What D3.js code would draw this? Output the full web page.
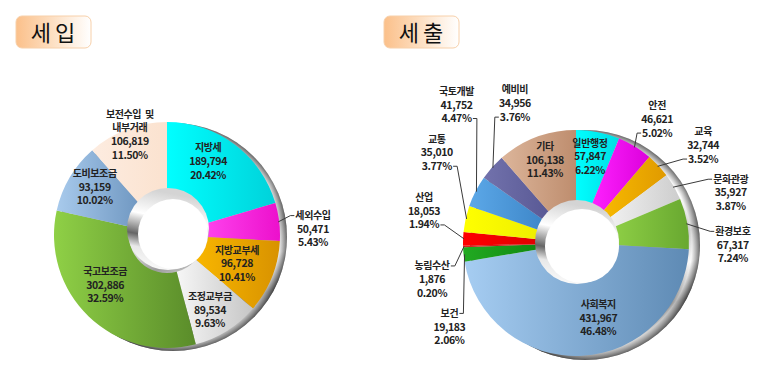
<!DOCTYPE html>
<html>
<head>
<meta charset="utf-8">
<script src="https://cdn.jsdelivr.net/npm/d3@7/dist/d3.min.js"></script>
<style>
    body { margin: 0; background: #fff; }
    svg text { font-family: "Noto Sans CJK KR", "Noto Sans", sans-serif; }
</style>
</head>
<body>
<svg id="chart" width="767" height="380"></svg>
<script>
// ---- data: 세입 ----
var revenueNames = ["지방세", "세외수입", "지방교부세", "조정교부금", "국고보조금", "도비보조금", "보전수입  및\n내부거래"];
var revenueAmounts = [189794, 50471, 96728, 89534, 302886, 93159, 106819];
var revenueShares = ["20.42%", "5.43%", "10.41%", "9.63%", "32.59%", "10.02%", "11.50%"];

// ---- data: 세출 ----
var expenseNames = ["일반행정", "안전", "교육", "문화관광", "환경보호", "사회복지", "보건", "농림수산", "산업", "교통", "국토개발", "예비비", "기타"];
var expenseAmounts = [57847, 46621, 32744, 35927, 67317, 431967, 19183, 1876, 18053, 35010, 41752, 34956, 106138];
var expenseShares = ["6.22%", "5.02%", "3.52%", "3.87%", "7.24%", "46.48%", "2.06%", "0.20%", "1.94%", "3.77%", "4.47%", "3.76%", "11.43%"];

// ---- layout / style ----
var revenueLayout = {
    key: "rev", title: "세입", titleX: 16,
    cx: 167, cy: 235, r: 113, r0: 38,
    ring: {dx: 6, dy: 2, r: 114}, bevel: {dx: 1, dy: -6, r: 41}, hole: {dx: 6, dy: -1, r: 35},
    colors: [["#00ffff", "#00d2da"], ["#ff44ee", "#ec10cc"], ["#f8b600", "#d89200"], ["#f6f6f6", "#c6c6c6"],
             ["#8fd046", "#5a8c2a"], ["#a8caec", "#6e96c0"], ["#fdece0", "#fbe2cf"]],
    nudges: [[-5, -12], [69.5, 3], [-1.5, 0], [2, 10], [-8.5, -5.5], [-6, -9], [-10, -28.5]],
    leaders: {1: {line: 0, side: "left"}}
};

var expenseLayout = {
    key: "exp", title: "세출", titleX: 384,
    cx: 576, cy: 243, r: 113, r0: 38,
    ring: {dx: 9, dy: 2, r: 115}, bevel: {dx: 1, dy: -1, r: 42}, hole: {dx: 6, dy: 3, r: 37},
    colors: [["#00ffff", "#00dce4"], ["#ff22ff", "#dc00dc"], ["#f8ba00", "#e09a00"], ["#f2f2f2", "#cdcdcd"],
             ["#8fd046", "#68a830"], ["#a6cdf2", "#5e8ab4"], ["#22aa22", "#118811"], ["#dd2222", "#bb1111"],
             ["#ff0000", "#e00000"], ["#ffff00", "#eeee00"], ["#5ca8e8", "#3d86c8"], ["#7272ac", "#585894"],
             ["#dcb59a", "#be8d6e"]],
    nudges: [[-1, -11], [41, -58], [71, -45], [88, -12], [81, 15], [18, -2], [-50, 76], [-67, 34],
             [-75, -29], [-64, -74], [-51, -103], [-4, -88], [-4, -11]],
    leaders: {
        1: {line: 2, side: "left"}, 2: {line: 2, side: "left"}, 3: {line: 0, side: "left"},
        4: {line: 0, side: "left"}, 6: {line: 0, side: "right"}, 7: {line: 0, side: "right"},
        8: {line: 2, side: "right"}, 9: {line: 2, side: "right"}, 10: {line: 2, side: "right"},
        11: {line: 2, side: "left"}
    }
};

var LINE_H = 13.5;
var svg = d3.select("#chart");
var defs = svg.append("defs");
var fmt = d3.format(",");

// metallic gradients shared by both charts
function addGradient(id, x1, y1, x2, y2, stops) {
    var g = defs.append("linearGradient").attr("id", id)
        .attr("x1", x1).attr("y1", y1).attr("x2", x2).attr("y2", y2);
    stops.forEach(function (s) {
        g.append("stop").attr("offset", s[0]).attr("stop-color", s[1]);
    });
}
addGradient("ringGrad", 0.3, 0, 0.7, 1, [[0, "#f2f2f2"], [0.3, "#c4c4c4"], [0.45, "#ffffff"], [0.6, "#9c9c9c"],
    [0.72, "#f5f5f5"], [0.85, "#4a4a4a"], [1, "#dddddd"]]);
addGradient("bevelGrad", 0.2, 0, 0, 1, [[0, "#d4d4d4"], [0.3, "#ffffff"], [0.55, "#666666"], [0.7, "#e8e8e8"], [1, "#ffffff"]]);
addGradient("titleGrad", 0, 0, 1, 0, [[0, "#fbc08a"], [0.5, "#fde0c4"], [1, "#ffffff"]]);

var ringEdge = defs.append("radialGradient").attr("id", "ringEdge");
[[0.86, "#ffffff", 0], [0.93, "#ffffff", 0.6], [1, "#3c3c3c", 0.7]].forEach(function (s) {
    ringEdge.append("stop").attr("offset", s[0]).attr("stop-color", s[1]).attr("stop-opacity", s[2]);
});

/**
 * Draws one donut with its title box, labels and leader lines
 */
function drawDonut(names, amounts, shares, L) {
    // title box
    var tg = svg.append("g").attr("transform", "translate(" + L.titleX + ",16)");
    tg.append("rect").attr("width", 75).attr("height", 32).attr("rx", 6)
        .attr("fill", "url(#titleGrad)").attr("stroke", "#f7d0aa").attr("stroke-width", 1);
    tg.append("text").attr("x", 39).attr("y", 25)
        .attr("text-anchor", "middle").attr("font-size", 22).attr("letter-spacing", 4)
        .attr("fill", "#111").text(L.title);

    var g = svg.append("g").attr("transform", "translate(" + L.cx + "," + L.cy + ")");

    // metallic rim behind the slices
    g.append("circle").attr("cx", L.ring.dx).attr("cy", L.ring.dy).attr("r", L.ring.r).attr("fill", "url(#ringGrad)");
    g.append("circle").attr("cx", L.ring.dx).attr("cy", L.ring.dy).attr("r", L.ring.r).attr("fill", "url(#ringEdge)");

    var pie = d3.pie().sort(null).value(function (d) { return d; });
    var arcs = pie(amounts);
    var arc = d3.arc().innerRadius(L.r0).outerRadius(L.r);
    var labelArc = d3.arc().innerRadius(77).outerRadius(77);

    L.colors.forEach(function (c, i) {
        addGradient(L.key + "-g" + i, 0, 0, 1, 0, [[0, c[0]], [1, c[1]]]);
    });

    g.selectAll("path.slice").data(arcs).enter().append("path")
        .attr("class", "slice")
        .attr("d", arc)
        .attr("fill", function (d, i) { return "url(#" + L.key + "-g" + i + ")"; });

    // hole with bevel
    g.append("circle").attr("cx", L.bevel.dx).attr("cy", L.bevel.dy).attr("r", L.bevel.r).attr("fill", "url(#bevelGrad)");
    g.append("circle").attr("cx", L.hole.dx).attr("cy", L.hole.dy).attr("r", L.hole.r).attr("fill", "#ffffff");

    // labels
    arcs.forEach(function (d, i) {
        var c = labelArc.centroid(d);
        var px = c[0] + L.nudges[i][0], py = c[1] + L.nudges[i][1];
        var nameLines = names[i].split("\n");
        var lines = nameLines.concat([fmt(amounts[i]), shares[i]]);
        var n = lines.length;
        var texts = lines.map(function (t, k) {
            var isName = k < nameLines.length;
            return g.append("text")
                .attr("x", px).attr("y", py + (k - (n - 1) / 2) * LINE_H)
                .attr("dy", "0.36em").attr("text-anchor", "middle")
                .attr("font-size", isName ? 10 : 10.5)
                .attr("letter-spacing", isName ? -0.4 : -0.4)
                .attr("font-weight", 700).attr("fill", "#222")
                .style("white-space", "pre")
                .text(t);
        });

        var ld = L.leaders[i];
        if (ld) {
            var bb = texts[ld.line].node().getBBox();
            var sx = ld.side == "left" ? bb.x - 1 : bb.x + bb.width + 1;
            var sy = bb.y + bb.height / 2 + 1;
            var stub = ld.side == "left" ? sx - 4 : sx + 4;
            var mid = (d.startAngle + d.endAngle) / 2;
            var ex = Math.sin(mid) * (L.r - 1), ey = -Math.cos(mid) * (L.r - 1);
            g.append("polyline")
                .attr("points", [[sx, sy], [stub, sy], [ex, ey]].map(function (p) { return p.join(","); }).join(" "))
                .attr("fill", "none").attr("stroke", "#3a3a3a").attr("stroke-width", 1);
        }
    });
}

drawDonut(revenueNames, revenueAmounts, revenueShares, revenueLayout);
drawDonut(expenseNames, expenseAmounts, expenseShares, expenseLayout);
</script>
</body>
</html>
